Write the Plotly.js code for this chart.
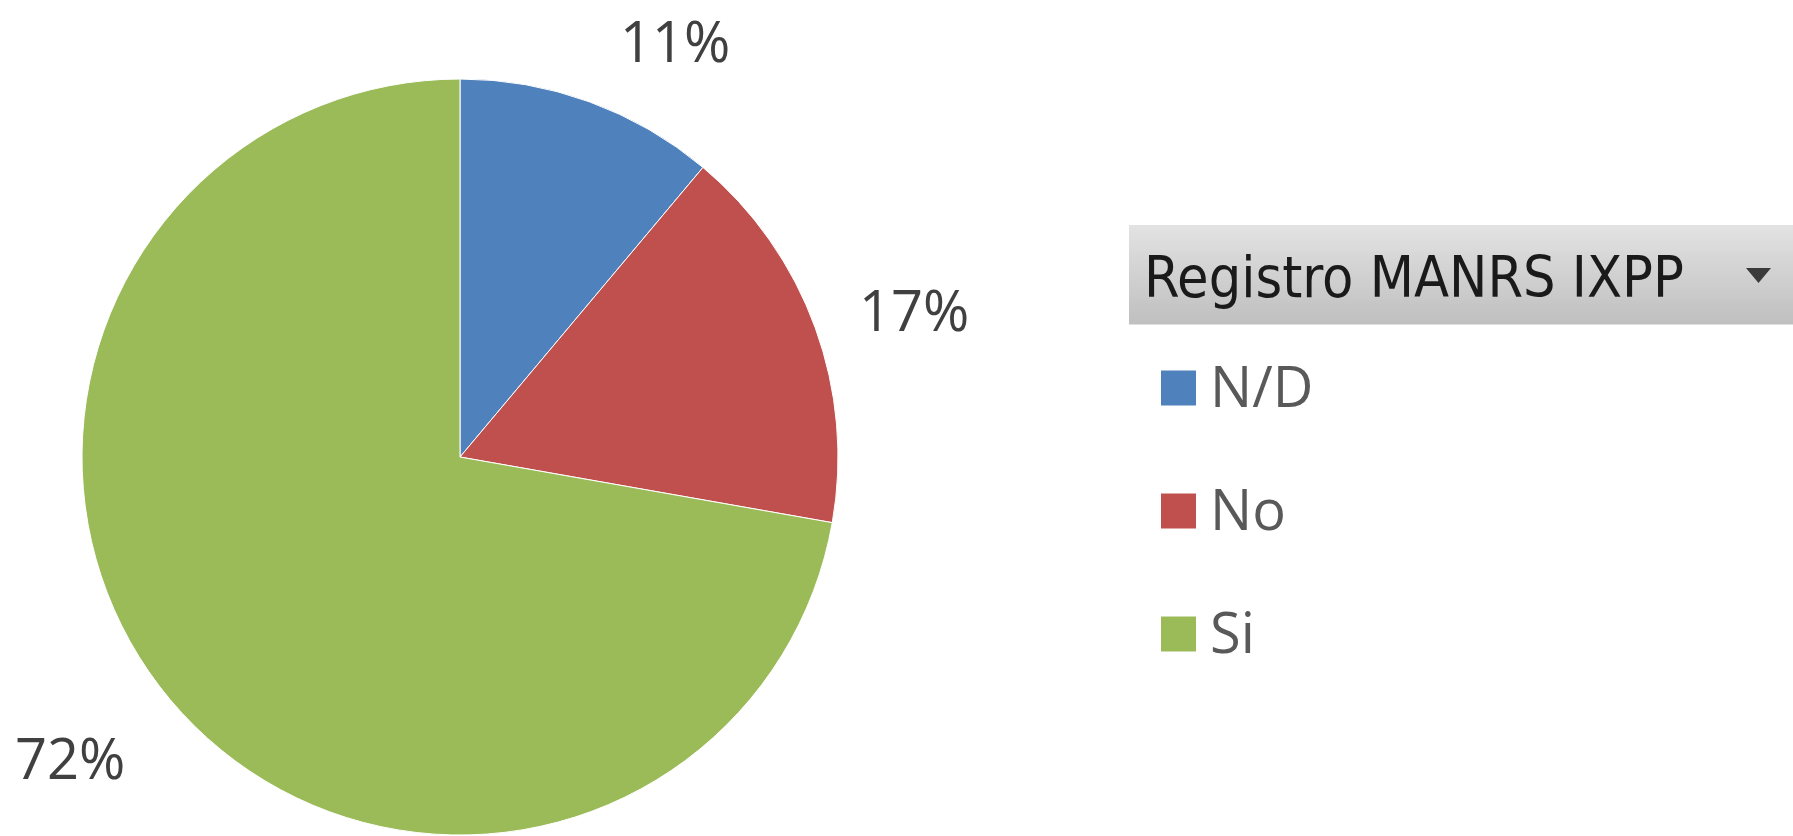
<!DOCTYPE html>
<html>
<head>
<meta charset="utf-8">
<script src="https://cdn.plot.ly/plotly-3.0.1.min.js"></script>
<style>html,body{margin:0;padding:0;background:#fff;}#chart{width:1793px;height:836px;}</style>
</head>
<body>
<div id="chart"></div>
<script>
// Data
const categories = ["N/D", "No", "Si"];
const counts = [2, 3, 13];
const sliceColors = ["#4F81BD", "#C0504D", "#9BBB59"];
const legendTitle = "Registro MANRS IXPP";

// Layout geometry (pixels)
const W = 1793, H = 836;
const cx = 460, cy = 457, R = 378;
const labelRadius = 1.26;
// per-label placement nudges (px), mimicking the spreadsheet's "outside end" label layout
const labelNudge = [[52, 31], [6, 15], [-25, -6]];
const px = x => x / W;
const py = y => 1 - y / H;

const total = counts.reduce((a, b) => a + b, 0);

const trace = {
  type: "pie",
  labels: categories,
  values: counts,
  sort: false,
  direction: "clockwise",
  rotation: 0,
  textinfo: "none",
  hoverinfo: "label+percent",
  marker: { colors: sliceColors, line: { color: "#ffffff", width: 1 } },
  domain: { x: [px(cx - R), px(cx + R)], y: [py(cy + R), py(cy - R)] },
  showlegend: false
};

const annotations = [];
const shapes = [];

// Percentage labels outside each slice
let cum = 0;
counts.forEach((v, i) => {
  const frac = v / total;
  const mid = (cum + frac / 2) * 2 * Math.PI;
  cum += frac;
  const lx = cx + labelRadius * R * Math.sin(mid) + labelNudge[i][0];
  const ly = cy - labelRadius * R * Math.cos(mid) + labelNudge[i][1];
  annotations.push({
    xref: "paper", yref: "paper", x: px(lx), y: py(ly),
    xanchor: "center", yanchor: "middle", showarrow: false,
    text: Math.round(frac * 100) + "%",
    font: { family: "Open Sans, sans-serif", size: 56, color: "#404040" }
  });
});

// Legend header box (gradient approximated with strips)
const bx0 = 1129, bx1 = 1793, by0 = 225, by1 = 324;
const strips = 33;
for (let s = 0; s < strips; s++) {
  const t = s / (strips - 1);
  const c = Math.round(226 - t * (226 - 192));
  shapes.push({
    type: "rect", xref: "paper", yref: "paper",
    x0: px(bx0), x1: px(bx1),
    y0: py(by0 + (by1 - by0) * s / strips), y1: py(by0 + (by1 - by0) * (s + 1) / strips + 0.5),
    fillcolor: `rgb(${c},${c},${c})`, line: { width: 0 }, layer: "below"
  });
}
// dropdown triangle
shapes.push({
  type: "path", xref: "paper", yref: "paper",
  path: `M ${px(1746)} ${py(268)} L ${px(1771)} ${py(268)} L ${px(1758.5)} ${py(283)} Z`,
  fillcolor: "#3a3a3a", line: { width: 0 }
});
annotations.push({
  xref: "paper", yref: "paper", x: px(1142), y: py(277),
  xanchor: "left", yanchor: "middle", showarrow: false,
  text: legendTitle,
  font: { family: "DejaVu Sans Condensed, Liberation Sans Narrow, DejaVu Sans, sans-serif", size: 57, color: "#1a1a1a" }
});

// Legend items
const legTop = 388, legStep = 123, sq = 35, sqX = 1161, txtX = 1208;
categories.forEach((c, i) => {
  const yc = legTop + i * legStep;
  shapes.push({
    type: "rect", xref: "paper", yref: "paper",
    x0: px(sqX), x1: px(sqX + sq), y0: py(yc + sq / 2), y1: py(yc - sq / 2),
    fillcolor: sliceColors[i], line: { width: 0 }
  });
  annotations.push({
    xref: "paper", yref: "paper", x: px(txtX), y: py(yc - 3),
    xanchor: "left", yanchor: "middle", showarrow: false,
    text: c,
    font: { family: "Open Sans, sans-serif", size: 56, color: "#595959" }
  });
});

const layout = {
  width: W, height: H,
  margin: { l: 0, r: 0, t: 0, b: 0 },
  paper_bgcolor: "#ffffff",
  showlegend: false,
  annotations: annotations,
  shapes: shapes
};

Plotly.newPlot("chart", [trace], layout, { displayModeBar: false, staticPlot: true });
</script>
</body>
</html>
